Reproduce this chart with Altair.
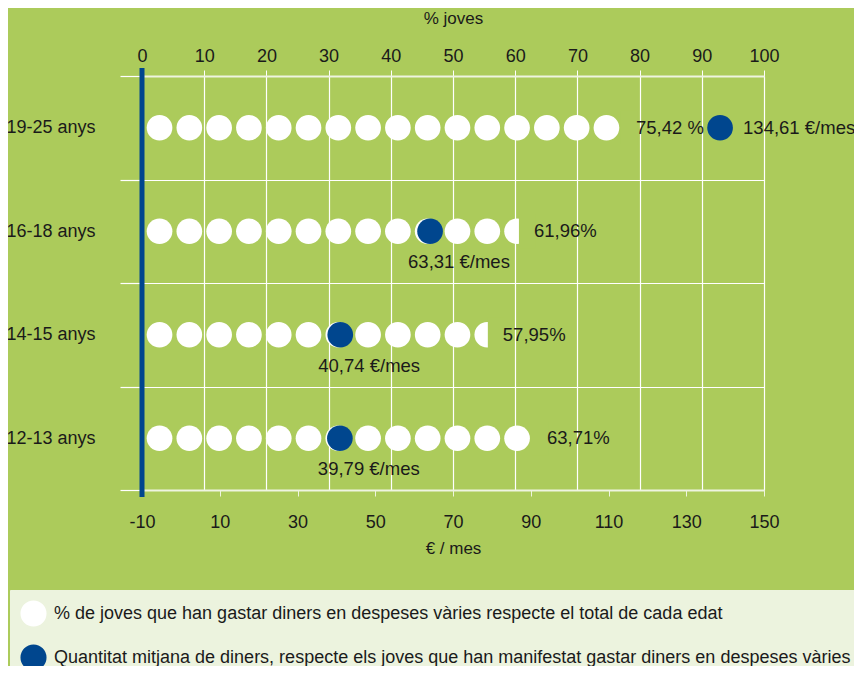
import altair as alt
import pandas as pd

# ---------------- data ----------------
ages = ["19-25 anys", "16-18 anys", "14-15 anys", "12-13 anys"]
pct_labels = ["75,42 %", "61,96%", "57,95%", "63,71%"]
euro_labels = ["134,61 €/mes", "63,31 €/mes", "40,74 €/mes", "39,79 €/mes"]
# where the blue marker sits on the € axis, as drawn
euro_marker_pos = [138.7, 64.1, 41.0, 40.9]
# where each row of white circles ends on the % axis, as drawn
circle_run_end = [77.0, 60.6, 55.6, 62.7]
euro_label_side = ["right", "below", "below", "below"]

legend_labels = [
    "% de joves que han gastar diners en despeses vàries respecte el total de cada edat",
    "Quantitat mitjana de diners, respecte els joves que han manifestat gastar diners en despeses vàries",
]
pct_ticks = [0, 10, 20, 30, 40, 50, 60, 70, 80, 90, 100]
euro_ticks = [-10, 10, 30, 50, 70, 90, 110, 130, 150]

# pictogram layout (in % axis units)
UNIT_START = 2.82
UNIT_STEP = 4.79
UNIT_RADIUS = 2.33

BG = "#accb5b"
BLUE = "#00468e"
TXT = "#1a1a1a"
LINE = "#eef4e0"
FONT = "Liberation Sans"

rows = pd.DataFrame({
    "age": ages,
    "pct_label": pct_labels,
    "euro_label": euro_labels,
    "euro": euro_marker_pos,
    "run_end": circle_run_end,
    "side": euro_label_side,
    "series": legend_labels[1],
})

circles = []
for age, end in zip(ages, circle_run_end):
    i = 0
    while UNIT_START + UNIT_STEP * i - UNIT_RADIUS < end:
        circles.append({"age": age, "pos": UNIT_START + UNIT_STEP * i, "series": legend_labels[0]})
        i += 1
circles = pd.DataFrame(circles)

W, H = 622, 414

pct_scale = alt.Scale(domain=[0, 100], nice=False, zero=False)
eur_scale = alt.Scale(domain=[-10, 150], nice=False, zero=False)
y_scale = alt.Scale(type="band", paddingInner=0, paddingOuter=0)
color_scale = alt.Scale(domain=legend_labels, range=["#ffffff", BLUE])

y_axis = alt.Axis(
    title=None, orient="left", domain=False, grid=True, gridColor="#ffffff", gridWidth=1.2,
    tickBand="extent", tickSize=22, tickColor="#ffffff", tickWidth=1.2,
    labelAlign="left", labelPadding=114, labelFontSize=18, labelColor=TXT, labelFont=FONT,
)
Y = alt.Y("age:N", sort=ages, scale=y_scale, axis=y_axis)

top_axis = alt.Axis(
    orient="top", title="% joves", values=pct_ticks, grid=True, gridColor="#ffffff", gridWidth=1.2,
    tickSize=6, tickColor="#ffffff", domainColor=LINE, domainWidth=2, labelFlush=False,
    labelFontSize=18, labelColor=TXT, labelFont=FONT, labelPadding=5,
    titleFontSize=17, titleFont=FONT, titleColor=TXT, titleFontWeight="normal", titlePadding=20,
)
bottom_axis = alt.Axis(
    orient="bottom", title="€ / mes", values=euro_ticks, grid=False, labelFlush=False,
    labelExpr="'' + datum.value",
    tickSize=6, tickColor=LINE, domainColor=LINE, domainWidth=2,
    labelFontSize=18, labelColor=TXT, labelFont=FONT, labelPadding=17,
    titleFontSize=17, titleFont=FONT, titleColor=TXT, titleFontWeight="normal", titlePadding=9,
)

legend = alt.Legend(
    title=None, orient="none", legendX=-132, legendY=514, direction="vertical",
    symbolType="circle", symbolSize=680, symbolStrokeWidth=0, symbolOpacity=1,
    labelFontSize=18, labelFont=FONT, labelColor=TXT, labelLimit=2000, labelOffset=7,
    rowPadding=17, padding=10, fillColor="#ecf3de", strokeColor="#ecf3de",
)

white = alt.Chart(circles).mark_circle(size=660, opacity=1).encode(
    x=alt.X("pos:Q", scale=pct_scale, axis=top_axis),
    y=Y,
    color=alt.Color("series:N", scale=color_scale, legend=legend),
)

cover = alt.Chart(rows).transform_calculate(cover_end="datum.run_end + 2.6").mark_bar(
    size=34, color=BG
).encode(
    x=alt.X("run_end:Q", scale=pct_scale, axis=None),
    x2="cover_end:Q",
    y=Y,
)

blue = alt.Chart(rows).mark_circle(size=660, opacity=1).encode(
    x=alt.X("euro:Q", scale=eur_scale, axis=bottom_axis),
    y=Y,
    color=alt.Color("series:N", scale=color_scale, legend=None),
)

rule = alt.Chart(pd.DataFrame({"pos": [0]})).mark_rule(color=BLUE, strokeWidth=5).encode(
    x=alt.X("pos:Q", scale=pct_scale, axis=None),
    y=alt.value(-8),
    y2=alt.value(H + 7),
)

pct_text = alt.Chart(rows).mark_text(
    align="left", baseline="middle", dx=15, fontSize=18.5, font=FONT, color=TXT
).encode(
    x=alt.X("run_end:Q", scale=pct_scale, axis=None),
    y=Y,
    text="pct_label:N",
)

eur_right = alt.Chart(rows).transform_filter("datum.side == 'right'").mark_text(
    align="left", baseline="middle", dx=23, fontSize=18.5, font=FONT, color=TXT
).encode(
    x=alt.X("euro:Q", scale=eur_scale, axis=None),
    y=Y,
    text="euro_label:N",
)

eur_below = alt.Chart(rows).transform_filter("datum.side == 'below'").mark_text(
    align="left", baseline="middle", dx=-22, dy=31, fontSize=18.5, font=FONT, color=TXT
).encode(
    x=alt.X("euro:Q", scale=eur_scale, axis=None),
    y=Y,
    text="euro_label:N",
)

chart = alt.layer(white, cover, blue, rule, pct_text, eur_right, eur_below).resolve_scale(
    x="independent", y="shared", color="shared"
).properties(
    width=W, height=H,
    autosize=alt.AutoSizeParams(type="none"),
    padding={"left": 134, "top": 68, "right": 90, "bottom": 176},
    background=BG,
).configure_view(stroke=None).configure(font=FONT)

chart.save("out.html", embed_options={"renderer": "svg", "actions": False})
